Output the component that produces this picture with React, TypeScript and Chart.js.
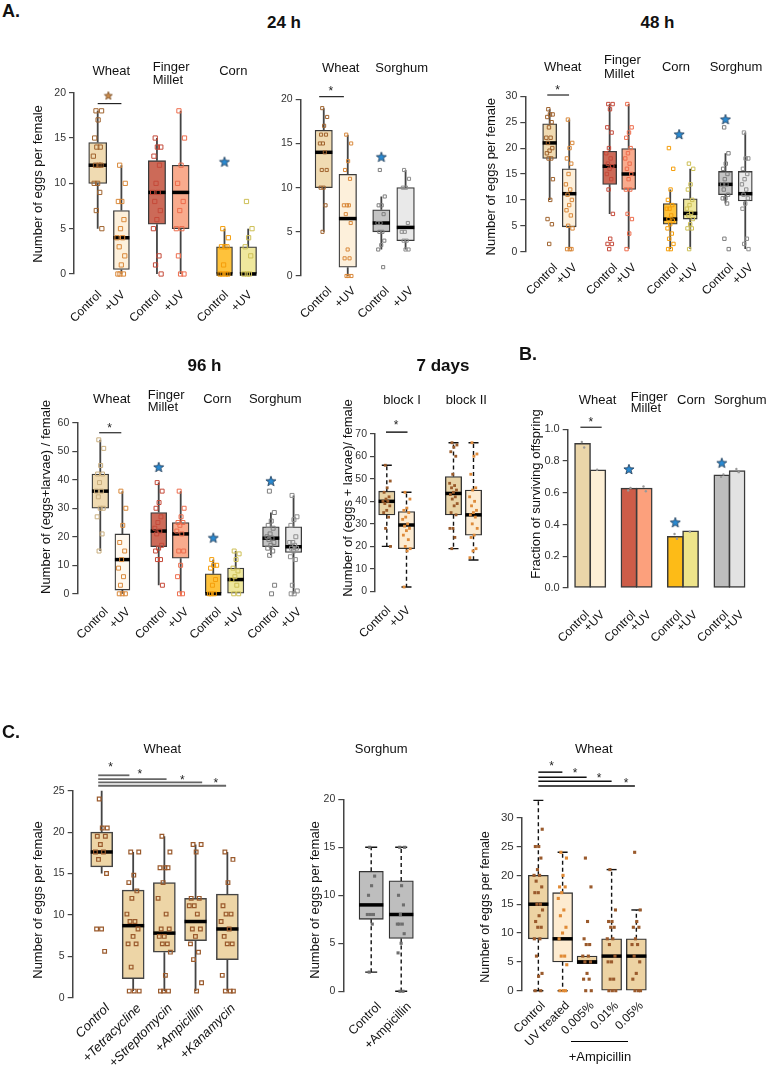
import React, { useEffect, useRef } from "react";
import { Chart, registerables } from "chart.js";

Chart.register(...registerables);

const FONT = "'Liberation Sans', Arial, Helvetica, sans-serif";
Chart.defaults.font.family = FONT;

// ======================= DATA =======================
// ---- A. 24 h : wheat / finger millet / corn ----
const A24L_LABELS = ["Control", "+UV", "Control", "+UV", "Control", "+UV"];
const A24L_LO = [5, 0, 0, 0, 0, 0];
const A24L_Q1 = [10, 0.5, 5.5, 5, 0, 0];
const A24L_MED = [12, 4, 9, 9, 0, 0];
const A24L_Q3 = [14.5, 7, 12.5, 12, 3, 3];
const A24L_HI = [18, 12, 15, 18, 5, 5];
const A24L_PTS = [
  [18, 18, 17, 15, 14, 14, 13, 12, 12, 12, 10, 10, 9, 7, 5],
  [12, 10, 8, 8, 6, 5, 4, 4, 3, 2, 1, 0, 0, 0],
  [15, 14, 14, 13, 12, 10, 9, 9, 8, 7, 6, 5, 2, 1, 0],
  [18, 15, 12, 10, 8, 7, 5, 5, 2, 0, 0],
  [5, 4, 3, 3, 3, 1, 0, 0, 0, 0],
  [8, 5, 4, 3, 2, 0, 0, 0],
];
const A24L_STARS = [{ box: 4, y: 12.4 }];
const A24L_SIGS = [{ a: 0, b: 1, y: 18.8, mark: "brown", f: 0.45, my: 19.7 }];

// ---- A. 24 h : wheat / sorghum ----
const A24R_LABELS = ["Control", "+UV", "Control", "+UV"];
const A24R_LO = [5, 0, 3, 3];
const A24R_Q1 = [10, 1, 5, 4];
const A24R_MED = [14, 6.5, 6, 5.5];
const A24R_Q3 = [16.5, 11.5, 7.5, 10];
const A24R_HI = [19, 16, 9, 12];
const A24R_PTS = [
  [19, 18, 17, 16, 16, 15, 15, 14, 12, 12, 10, 10, 8, 5],
  [16, 15, 13, 12, 11, 8, 8, 8, 7, 6, 3, 2, 2, 0, 0, 0],
  [12, 9, 8, 8, 7, 6, 6, 5, 5, 4, 3.5, 3, 1],
  [12, 11, 10, 10, 6, 5, 5, 4, 4, 3, 3],
];
const A24R_STARS = [{ box: 2, y: 13.5 }];
const A24R_SIGS = [{ a: 0, b: 1, y: 20.3, mark: "*", f: 0.47, my: 21.3, d1: -0.19, d2: -0.16 }];

// ---- A. 48 h ----
const A48_LABELS = ["Control", "+UV", "Control", "+UV", "Control", "+UV", "Control", "+UV"];
const A48_LO = [10, 0.5, 7.3, 0.5, 0.5, 0.5, 9.3, 0.5];
const A48_Q1 = [18, 4.8, 13, 12, 5.3, 6.3, 11, 9.8];
const A48_MED = [21, 11.2, 16.5, 15, 6.3, 7.4, 13, 11.2];
const A48_Q3 = [24.7, 16, 19.4, 19.9, 9.3, 10.2, 15.5, 15.5];
const A48_HI = [27.5, 25.5, 28.5, 28.5, 12, 16, 19, 23];
const A48_PTS = [
  [27.5, 26.5, 26.5, 26, 25, 24, 22, 22, 21, 20, 19.5, 19, 18, 18, 14, 10, 6.3, 5.3, 1.5],
  [25.5, 21, 20, 18, 17, 15, 13, 12, 11, 10, 9, 8, 7, 5, 4.5, 0.5, 0.5, 0.5],
  [28.5, 28.5, 27.5, 24, 23, 20, 19, 18, 17, 16.5, 16, 15, 14, 12, 7.3, 2.5, 1.5, 1.5, 0.5],
  [28.5, 24, 23, 22, 20, 19, 18, 17, 16, 15, 14, 12, 12, 7.3, 6.3, 3.5, 0.5],
  [20, 16, 12, 10, 9, 8.3, 8.3, 7, 6.3, 6, 5.3, 4.5, 3.5, 2.5, 1.5, 0.5, 0.5],
  [17, 16, 13, 12, 10, 9, 8.3, 7.5, 7, 6.3, 5.3, 4.5, 4.5, 0.5],
  [24, 19, 17, 16, 15, 14, 13, 13, 12, 11, 10.3, 10.3, 9.3, 2.5, 0.5],
  [23, 18, 18, 16, 15, 14, 13, 12, 11, 10.3, 9.3, 8.3, 2.5, 1.5, 0.5],
];
const A48_STARS = [{ box: 4, y: 22.7, dx: 0.45 }, { box: 6, y: 25.6 }];
const A48_SIGS = [{ a: 0, b: 1, y: 30.25, mark: "*", f: 0.47, my: 31.7, d1: -0.12, d2: -0.01 }];

// ---- A. 96 h ----
const A96_LABELS = ["Control", "+UV", "Control", "+UV", "Control", "+UV", "Control", "+UV"];
const A96_LO = [15, 0, 3, 0, 0, 0, 13.5, 0];
const A96_Q1 = [30, 1.3, 16.5, 12.5, 0, 0, 16.5, 14.5];
const A96_MED = [36, 12, 22, 21, 0, 5, 19.5, 16.5];
const A96_Q3 = [42, 21, 28.5, 25, 7, 9, 23.5, 23.5];
const A96_HI = [54, 36, 39, 36, 12, 15, 28.5, 34.5];
const A96_PTS = [
  [54, 51, 45, 42, 42, 39, 36, 36, 34, 30, 30, 27, 21, 15],
  [36, 30, 24, 18, 15, 12, 9, 6, 3, 0, 0, 0],
  [39, 36, 32, 30, 27, 25, 23, 22, 21, 17, 16, 15, 12, 12, 3],
  [36, 30, 27, 25, 25, 24, 22, 21, 15, 15, 10, 6, 0, 0],
  [12, 10, 10, 9, 5, 3, 0, 0, 0],
  [15, 14, 12, 9, 8, 6, 5, 3, 0, 0],
  [36, 28.5, 25.5, 24, 23, 21, 20, 19.5, 19, 18, 17, 16, 15, 13.5, 3, 0],
  [34.5, 27, 26, 24, 20, 18, 18, 17, 16, 16, 15, 13, 12, 3, 1, 0, 0],
];
const A96_STARS = [{ box: 2, y: 44.5 }, { box: 4, y: 19.7 }, { box: 6, y: 39.6 }];
const A96_SIGS = [{ a: 0, b: 1, y: 56.5, mark: "*", f: 0.47, my: 59.2, d1: -0.05, d2: -0.05 }];

// ---- A. 7 days ----
const D7_LABELS = ["Control", "+UV", "", ""];
const D7_LO = [20, 2, 19, 14];
const D7_Q1 = [34, 19, 34, 25];
const D7_MED = [40, 29.5, 43.5, 34];
const D7_Q3 = [44.5, 35.5, 51, 45];
const D7_HI = [56, 44, 66, 66];
const D7_PTS = [
  [56, 49, 46, 44, 42, 41, 40, 40, 39, 38, 36, 35, 33, 28, 20],
  [44, 41, 37, 36, 35, 33, 32, 30, 29, 28, 27, 25, 23, 20, 19, 18, 2],
  [66, 65, 64, 62, 60, 52, 48, 47, 46, 45, 44, 43, 42, 41, 39, 38, 35, 34, 28, 28, 24, 19],
  [66, 61, 60, 52, 46, 45, 42, 40, 38, 36, 35, 34, 33, 30, 28, 25, 24, 19, 18, 15],
];
const D7_SIGS = [{ a: 0, b: 1, y: 70.7, mark: "*", f: 0.47, my: 75, d1: -0.04, d2: 0.05 }];

// ---- B. fraction of surviving offspring ----
const B_LABELS = ["Control", "+UV", "Control", "+UV", "Control", "+UV", "Control", "+UV"];
const B_VALUES = [0.911, 0.745, 0.629, 0.63, 0.326, 0.36, 0.713, 0.74];
const B_PTS = [[0.92, 0.885], [0.745], [0.615, 0.63], [0.64, 0.61], [0.34, 0.31], [0.355], [0.7, 0.715], [0.75, 0.73]];
const B_STARS = [{ box: 2, y: 0.75 }, { box: 4, y: 0.415 }, { box: 6, y: 0.79 }];
const B_SIGS = [{ a: 0, b: 1, y: 1.013, mark: "*", f: 0.49, my: 1.066, d1: -0.14, d2: 0.25 }];

// ---- C. wheat + antibiotics ----
const CL_LABELS = ["Control", "+Tetracycline", "+Streptomycin", "+Ampicillin", "+Kanamycin"];
const CL_LO = [15, 0.8, 0.8, 0.8, 0.8];
const CL_Q1 = [15.8, 2.3, 5.5, 6.9, 4.6];
const CL_MED = [17.6, 8.7, 7.8, 9.2, 8.3];
const CL_Q3 = [20, 13, 13.9, 12, 12.5];
const CL_HI = [25, 17.6, 19.5, 18.5, 17.6];
const CL_PTS = [
  [24, 20.5, 20.5, 19.5, 19.5, 18.5, 17.6, 17.6, 16.7, 15, 8.3, 8.3, 5.6],
  [17.6, 17.6, 14.8, 13.9, 12.9, 12, 10.1, 9.2, 9.2, 8.3, 7.4, 6.5, 6.5, 3.7, 0.8, 0.8, 0.8],
  [19.5, 17.6, 15.7, 15.7, 15.7, 13.9, 12, 10.1, 8.3, 8.3, 7.4, 7.4, 6.5, 6.5, 5.5, 2.7, 0.8, 0.8, 0.8],
  [18.5, 18.5, 17.6, 12, 12, 11.1, 11.1, 10.1, 8.3, 8.3, 7.4, 6.5, 5.5, 4.6, 1.8, 0.8],
  [17.6, 16.7, 13.9, 11.1, 10.1, 10.1, 9.2, 8.3, 7.4, 6.5, 6.5, 2.7, 0.8, 0.8, 0.8],
];
const CL_SIGS = [
  { a: 0, b: 1, y: 26.86, mark: "*", f: 0.4, my: 28.2, d1: -0.11, d2: -0.12 },
  { a: 0, b: 2, y: 26.4, mark: "*", f: 0.61, my: 27.4, d1: -0.11, d2: 0.07 },
  { a: 0, b: 3, y: 26.0, mark: "*", f: 0.81, my: 26.7, d1: -0.11, d2: 0.21 },
  { a: 0, b: 4, y: 25.6, mark: "*", f: 0.92, my: 26.3, d1: -0.11, d2: -0.04 },
];

// ---- C. sorghum + ampicillin ----
const CM_LABELS = ["Control", "+Ampicillin"];
const CM_LO = [2, 0];
const CM_Q1 = [7.5, 5.5];
const CM_MED = [9, 8];
const CM_Q3 = [12.5, 11.5];
const CM_HI = [15, 15];
const CM_PTS = [
  [15, 12, 11, 10, 8, 8, 8, 7, 2],
  [15, 15, 11, 10, 9, 8, 7, 7, 7, 6, 5, 4, 0, 0],
];

// ---- C. wheat, UV and ampicillin doses ----
const CR_LABELS = ["Control", "UV treated", "0.005%", "0.01%", "0.05%"];
const CR_LO = [0, 0, 4.7, 0, 0];
const CR_Q1 = [9, 5, 4.7, 0, 0];
const CR_MED = [15, 9, 5, 6, 6];
const CR_Q3 = [20, 17, 6, 9, 9];
const CR_HI = [33, 24, 6, 21, 14];
const CR_PTS = [
  [33, 28, 25, 25, 23, 21, 20, 20, 19, 18, 17, 17, 15, 15, 14, 13, 12, 11, 11, 9, 9, 6, 3, 2.5, 0, 0],
  [24, 23, 20, 18, 18, 17, 16, 14, 13, 11, 10, 9, 6, 6, 4.5, 0, 0, 0],
  [23, 18, 12, 9, 8, 8, 6, 6, 5, 5, 3, 2, 2, 0, 0],
  [21, 14, 12, 12, 11, 11, 9, 9, 8, 6, 5, 5, 2, 2, 0, 0, 0],
  [24, 14, 12, 11, 11, 9, 8, 8, 6, 5, 3, 2, 0, 0, 0],
];
const CR_SIGS = [
  { a: 0, b: 1, y: 37.9, mark: "*", f: 0.55, my: 39.5, d2: -0.01 },
  { a: 0, b: 2, y: 37.0, mark: "*", f: 0.76, my: 38.25, d2: -0.02 },
  { a: 0, b: 3, y: 36.3, mark: "*", f: 0.83, my: 37.4 },
  { a: 0, b: 4, y: 35.5, mark: "*", f: 0.91, my: 36.5, d2: -0.06 },
];

// ======================= STYLES =======================
const WC_FILL = "#F0DBB2", WU_FILL = "#FDF0DB", FC_FILL = "#CC6A58", FU_FILL = "#F9AB8D";
const CC_FILL = "#FEC23B", CU_FILL = "#EFE89D", SC_FILL = "#C4C4C4", SU_FILL = "#E9E9E9";
const WC_PT = "#A0642F", WU_PT = "#D9893B", FC_PT = "#C54A3A", FU_PT = "#EE6D4D";
const CC_PT = "#F59E0B", CU_PT = "#CDBF55", SC_PT = "#7E7E7E", SU_PT = "#8E8E8E";

const A_STYLE = {
  boxBorder: "#3A3A3A", boxBorderW: 1.3, whiskerColor: "#444", whiskerW: 1.8,
  dashed: false, caps: false, capPx: 10, medW: 3.5, yTickSize: 10.5,
  ptFilled: false, ptBorder: 1, labelSize: 12, labelOffset: 6,
};

const PANELS: any[] = [
  {
    ...A_STYLE, left: 0, top: 40, bottom: 335, axisX: 74, yTopPx: 92.7, yBotPx: 274, ppu: 23.7, xMax: 8.0,
    yMin: 0, yMax: 20, yStep: 5, positions: [1, 2, 3.5, 4.5, 6.35, 7.35], labels: A24L_LABELS, labelPad: 14, labelOffset: 2,
    lo: A24L_LO, q1: A24L_Q1, med: A24L_MED, q3: A24L_Q3, hi: A24L_HI, points: A24L_PTS,
    widths: [18, 16, 17.3, 17, 16, 16.7],
    fills: [WC_FILL, WU_FILL, FC_FILL, FU_FILL, CC_FILL, CU_FILL],
    ptColors: [WC_PT, WU_PT, FC_PT, FU_PT, CC_PT, CU_PT], ptRadius: 3, jitterPx: 9,
    stars: A24L_STARS, sigs: A24L_SIGS, sigColor: "#222", sigW: 1.2,
    yTitle: { text: "Number of eggs per female", x: 38, y: 184, size: 13 },
  },
  {
    ...A_STYLE, left: 272, top: 40, bottom: 335, axisX: 300.7, yTopPx: 99.3, yBotPx: 276, ppu: 24, xMax: 5.0,
    yMin: 0, yMax: 20, yStep: 5, positions: [0.96, 1.96, 3.36, 4.37], labels: A24R_LABELS, labelPad: 8,
    lo: A24R_LO, q1: A24R_Q1, med: A24R_MED, q3: A24R_Q3, hi: A24R_HI, points: A24R_PTS,
    widths: [17.3, 17.6, 17.3, 17.6],
    fills: [WC_FILL, WU_FILL, SC_FILL, SU_FILL], ptColors: [WC_PT, WU_PT, SC_PT, SU_PT], ptRadius: 2.2, jitterPx: 8,
    stars: A24R_STARS, sigs: A24R_SIGS, sigColor: "#222", sigW: 1.2,
  },
  {
    ...A_STYLE, left: 455, top: 40, bottom: 335, axisX: 525.3, yTopPx: 96.3, yBotPx: 251.7, ppu: 19.8, xMax: 11.5, padRight: 12,
    yMin: 0, yMax: 30, yStep: 5, positions: [1.23, 2.22, 4.26, 5.22, 7.32, 8.33, 10.11, 11.11], labels: A48_LABELS, labelPad: 9,
    lo: A48_LO, q1: A48_Q1, med: A48_MED, q3: A48_Q3, hi: A48_HI, points: A48_PTS,
    widths: [14, 14, 14, 14, 14, 14, 14, 14],
    fills: [WC_FILL, WU_FILL, FC_FILL, FU_FILL, CC_FILL, CU_FILL, SC_FILL, SU_FILL],
    ptColors: [WC_PT, WU_PT, FC_PT, FU_PT, CC_PT, CU_PT, SC_PT, SU_PT], ptRadius: 2.4, jitterPx: 7,
    stars: A48_STARS, sigs: A48_SIGS, sigColor: "#222", sigW: 1.2,
    yTitle: { text: "Number of eggs per female", x: 491.5, y: 176.7, size: 13 },
  },
  {
    ...A_STYLE, left: 0, top: 345, bottom: 655, axisX: 77.3, yTopPx: 422.7, yBotPx: 593.8, ppu: 22, xMax: 10.5,
    yMin: 0, yMax: 60, yStep: 10, positions: [1.045, 2.05, 3.7, 4.7, 6.18, 7.2, 8.8, 9.83], labels: A96_LABELS, labelPad: 11,
    lo: A96_LO, q1: A96_Q1, med: A96_MED, q3: A96_Q3, hi: A96_HI, points: A96_PTS,
    widths: [16.7, 15, 16, 16.7, 16, 16.3, 16.7, 16.3],
    fills: [WC_FILL, "#FFF9F0", FC_FILL, FU_FILL, CC_FILL, CU_FILL, SC_FILL, SU_FILL],
    ptColors: ["#C9AE7E", WU_PT, FC_PT, FU_PT, CC_PT, CU_PT, SC_PT, SU_PT], ptRadius: 2.8, jitterPx: 8,
    stars: A96_STARS, sigs: A96_SIGS, sigColor: "#444", sigW: 1.4,
    yTitle: { text: "Number of (eggs+larvae) / female", x: 46, y: 497, size: 13 },
  },
  {
    ...A_STYLE, left: 322, top: 345, bottom: 655, axisX: 375, yTopPx: 433.7, yBotPx: 591.5, ppu: 20, xMax: 5.6,
    yMin: 0, yMax: 70, yStep: 10, positions: [0.59, 1.575, 3.925, 4.925], labels: D7_LABELS, labelPad: 12, labelOffset: 2,
    lo: D7_LO, q1: D7_Q1, med: D7_MED, q3: D7_Q3, hi: D7_HI, points: D7_PTS,
    widths: [16.3, 16.3, 16.3, 16.3],
    fills: ["#E8D3A6", "#FCEBD2", "#E8D3A6", "#FCEBD2"], ptColors: ["#9A5B2B", "#DE8A3A", "#9A5B2B", "#DE8A3A"],
    ptFilled: true, ptRadius: 2, ptBorder: 0, jitterPx: 8,
    boxBorder: "#333", whiskerColor: "#111", whiskerW: 1.4, dashed: true, caps: true, capPx: 10,
    sigs: D7_SIGS, sigColor: "#111", sigW: 1.4,
    yTitle: { text: "Number of (eggs + larvae)/ female", x: 348.5, y: 498, size: 13 },
  },
  {
    ...A_STYLE, left: 498, top: 345, bottom: 655, axisX: 567.7, yTopPx: 429.3, yBotPx: 588, ppu: 16, xMax: 11.8, padRight: 11,
    yMin: 0, yMax: 1, yStep: 0.2, yDec: 1, yTickSize: 11, positions: [0.97, 1.97, 4.0, 5.0, 7.03, 8.03, 10.07, 11.07],
    labels: B_LABELS, labelPad: 20, labelOffset: 5, barValues: B_VALUES, points: B_PTS,
    widths: [16, 16, 16, 16, 16, 16, 16, 16],
    fills: ["#EBD6A9", "#FDEFD5", "#CD5C48", "#FCA07C", "#FDBB17", "#EEE48A", "#BDBDBD", "#E2E2E2"],
    ptColors: ["#999", "#999", "#999", "#999", "#999", "#999", "#999", "#999"], ptStyle: "circle",
    ptFilled: true, ptRadius: 1.2, ptBorder: 0, jitterPx: 4, boxBorderW: 1.5,
    stars: B_STARS, sigs: B_SIGS, sigColor: "#222", sigW: 1.2,
    yTitle: { text: "Fraction of surviving offspring", x: 536, y: 494, size: 13 },
  },
  {
    ...A_STYLE, left: 0, top: 700, bottom: 1066, axisX: 72.7, yTopPx: 790.7, yBotPx: 997.7, ppu: 31.5, xMax: 5.5,
    yMin: 0, yMax: 25, yStep: 5, positions: [0.92, 1.92, 2.91, 3.9, 4.91], labels: CL_LABELS, labelSize: 13, labelItalic: true, labelPad: 3,
    lo: CL_LO, q1: CL_Q1, med: CL_MED, q3: CL_Q3, hi: CL_HI, points: CL_PTS,
    widths: [22, 22, 22, 22, 22],
    fills: ["#EDD5A6", "#EDD5A6", "#EDD5A6", "#EDD5A6", "#EDD5A6"],
    ptColors: ["#9A5A2C", "#9A5A2C", "#9A5A2C", "#9A5A2C", "#9A5A2C"], ptRadius: 2.6, ptBorder: 1.2, jitterPx: 13,
    whiskerColor: "#444", whiskerW: 1.8, boxBorder: "#444", boxBorderW: 1.5,
    sigs: CL_SIGS, sigColor: "#666", sigW: 1.8,
    yTitle: { text: "Number of eggs per female", x: 38.3, y: 900, size: 13 },
  },
  {
    ...A_STYLE, left: 285, top: 700, bottom: 1066, axisX: 343.3, yTopPx: 799.3, yBotPx: 991.3, ppu: 30, xMax: 2.5,
    yMin: 0, yMax: 20, yStep: 5, positions: [0.93, 1.93], labels: CM_LABELS, labelSize: 12.5, labelPad: 8, labelOffset: 8,
    lo: CM_LO, q1: CM_Q1, med: CM_MED, q3: CM_Q3, hi: CM_HI, points: CM_PTS,
    widths: [24.3, 24.3], fills: ["#BEBEBE", "#BEBEBE"], ptColors: ["#6E6E6E", "#6E6E6E"],
    ptFilled: true, ptRadius: 2.2, ptBorder: 0, jitterPx: 8,
    boxBorder: "#333", whiskerColor: "#111", whiskerW: 1.4, dashed: true, caps: true, capPx: 12,
    yTitle: { text: "Number of eggs per female", x: 315, y: 900, size: 13 },
  },
  {
    ...A_STYLE, left: 462, top: 700, bottom: 1066, axisX: 521.7, yTopPx: 817.7, yBotPx: 990.7, ppu: 24.5, xMax: 5.2,
    yMin: 0, yMax: 30, yStep: 5, yTickSize: 11.5, positions: [0.68, 1.67, 2.67, 3.67, 4.68], labels: CR_LABELS, labelPad: 8, labelOffset: 5,
    lo: CR_LO, q1: CR_Q1, med: CR_MED, q3: CR_Q3, hi: CR_HI, points: CR_PTS,
    widths: [20, 20, 20, 20, 20],
    fills: ["#EDD3A3", "#FDEBD0", "#EDD3A3", "#EDD3A3", "#EDD3A3"],
    ptColors: ["#9A5A2C", "#E08A35", "#9A5A2C", "#9A5A2C", "#9A5A2C"], ptFilled: true, ptRadius: 2.2, ptBorder: 0, jitterPx: 9,
    boxBorder: "#333", whiskerColor: "#111", whiskerW: 1.4, dashed: true, caps: true, capPx: 10,
    sigs: CR_SIGS, sigColor: "#111", sigW: 1.5,
    yTitle: { text: "Number of eggs per female", x: 486, y: 907, size: 12.5 },
  },
];

const TEXTS: any[] = [
  { text: "A.", x: 11, y: 11, size: 18, bold: true },
  { text: "24 h", x: 284, y: 22, size: 17, bold: true },
  { text: "48 h", x: 657.5, y: 22, size: 17, bold: true },
  { text: "96 h", x: 204.5, y: 365, size: 17, bold: true },
  { text: "7 days", x: 443, y: 365, size: 17, bold: true },
  { text: "B.", x: 528, y: 354, size: 18, bold: true },
  { text: "C.", x: 11, y: 731.5, size: 18, bold: true },
  { text: "Wheat", x: 111.3, y: 69.7, size: 13 },
  { text: "Finger", x: 152.7, y: 66.3, size: 13, left: true },
  { text: "Millet", x: 152.7, y: 78.5, size: 13, left: true },
  { text: "Corn", x: 233.3, y: 70, size: 13 },
  { text: "Wheat", x: 340.7, y: 67.3, size: 13 },
  { text: "Sorghum", x: 401.7, y: 67.3, size: 13 },
  { text: "Wheat", x: 562.7, y: 65.7, size: 13 },
  { text: "Finger", x: 604, y: 59, size: 13, left: true },
  { text: "Millet", x: 604, y: 72.5, size: 13, left: true },
  { text: "Corn", x: 676, y: 65.7, size: 13 },
  { text: "Sorghum", x: 736, y: 65.7, size: 13 },
  { text: "Wheat", x: 111.7, y: 397.7, size: 13 },
  { text: "Finger", x: 147.7, y: 393.7, size: 13, left: true },
  { text: "Millet", x: 147.7, y: 406, size: 13, left: true },
  { text: "Corn", x: 217.3, y: 398.3, size: 13 },
  { text: "Sorghum", x: 275.3, y: 398.3, size: 13 },
  { text: "block I", x: 402, y: 398.5, size: 13 },
  { text: "block II", x: 466.3, y: 398.5, size: 13 },
  { text: "Wheat", x: 597.5, y: 399.3, size: 13 },
  { text: "Finger", x: 630.7, y: 395.8, size: 13, left: true },
  { text: "Millet", x: 630.7, y: 406.7, size: 13, left: true },
  { text: "Corn", x: 691.2, y: 399.3, size: 13 },
  { text: "Sorghum", x: 740.3, y: 399.3, size: 13 },
  { text: "Wheat", x: 162.3, y: 748.3, size: 13 },
  { text: "Sorghum", x: 381.2, y: 748.3, size: 13 },
  { text: "Wheat", x: 593.8, y: 748.3, size: 13 },
  { text: "+Ampicillin", x: 600, y: 1055.7, size: 13 },
];

// ======================= HELPERS =======================
const jit = (j: number) => ((j * 0.618034 + 0.31) % 1) - 0.5;

function makeStar(fill: string, stroke: string, size: number) {
  const c = document.createElement("canvas");
  c.width = size;
  c.height = size;
  const g = c.getContext("2d") as CanvasRenderingContext2D;
  const cx = size / 2, cy = size / 2 + size * 0.05;
  const R = size / 2 - 0.7, r = R * 0.42;
  g.beginPath();
  for (let k = 0; k < 10; k++) {
    const a = -Math.PI / 2 + (k * Math.PI) / 5;
    const rr = k % 2 === 0 ? R : r;
    g.lineTo(cx + rr * Math.cos(a), cy + rr * Math.sin(a));
  }
  g.closePath();
  g.fillStyle = fill;
  g.fill();
  g.lineWidth = 0.8;
  g.strokeStyle = stroke;
  g.stroke();
  return c;
}

function BoxPanel({ p }: { p: any }) {
  const ref = useRef<HTMLCanvasElement>(null);
  const areaRight = p.axisX + p.xMax * p.ppu;
  const width = Math.round(areaRight + (p.padRight ?? 14) - p.left);
  const height = p.bottom - p.top;

  useEffect(() => {
    const canvas = ref.current;
    if (!canvas) return;
    const padTop = p.yTopPx - p.top;
    const padRight = width - (areaRight - p.left);
    const yAxisW = p.axisX - p.left;
    const xAxisH = p.bottom - p.yBotPx;

    const datasets: any[] = [];
    p.positions.forEach((pos: number, i: number) => {
      datasets.push({
        type: "bar",
        data: [{ x: pos, y: p.barValues ? p.barValues[i] : [p.q1[i], p.q3[i]] }],
        backgroundColor: p.fills[i],
        borderColor: p.boxBorder,
        borderWidth: p.boxBorderW,
        borderSkipped: false,
        barThickness: p.widths[i],
        grouped: false,
        clip: false,
        order: 3,
        boxIndex: i,
      });
    });
    p.points.forEach((arr: number[], i: number) => {
      datasets.push({
        type: "scatter",
        data: arr.map((v, j) => ({ x: p.positions[i] + (jit(j) * p.jitterPx) / p.ppu, y: v })),
        pointStyle: p.ptStyle || "rect",
        pointRadius: p.ptRadius,
        pointBorderWidth: p.ptBorder,
        pointBorderColor: p.ptColors[i],
        pointBackgroundColor: p.ptFilled ? p.ptColors[i] : "rgba(0,0,0,0)",
        clip: false,
        order: 2,
      });
    });
    if (p.stars && p.stars.length) {
      const img = makeStar("#2A8AD2", "#1B3550", 12);
      datasets.push({
        type: "scatter",
        data: p.stars.map((s: any) => ({ x: p.positions[s.box] + (s.dx || 0), y: s.y })),
        pointStyle: img,
        pointRadius: 6,
        clip: false,
        order: 1,
      });
    }
    const brown = (p.sigs || []).filter((s: any) => s.mark === "brown");
    if (brown.length) {
      const img = makeStar("#C98A4B", "#7A4A20", 10);
      datasets.push({
        type: "scatter",
        data: brown.map((s: any) => {
          const x1 = p.positions[s.a] + (s.d1 || 0);
          const x2 = p.positions[s.b] + (s.d2 || 0);
          return { x: x1 + (x2 - x1) * s.f, y: s.my };
        }),
        pointStyle: img,
        pointRadius: 5,
        clip: false,
        order: 1,
      });
    }

    const decor = {
      id: "decor",
      afterDatasetDraw(chart: any, args: any) {
        const ds = chart.data.datasets[args.index];
        if (ds.boxIndex === undefined || !p.med) return;
        const i = ds.boxIndex;
        const el = args.meta.data[0];
        if (!el) return;
        const ys = chart.scales.y;
        const Y = (v: number) => ys.getPixelForValue(v);
        const ctx = chart.ctx;
        const x = el.x, hw = el.width / 2;
        ctx.save();
        ctx.strokeStyle = p.whiskerColor;
        ctx.lineWidth = p.whiskerW;
        ctx.setLineDash(p.dashed ? [4, 3] : []);
        ctx.beginPath();
        if (p.hi[i] > p.q3[i]) { ctx.moveTo(x, Y(p.q3[i])); ctx.lineTo(x, Y(p.hi[i])); }
        if (p.lo[i] < p.q1[i]) { ctx.moveTo(x, Y(p.q1[i])); ctx.lineTo(x, Y(p.lo[i])); }
        ctx.stroke();
        ctx.setLineDash([]);
        if (p.caps) {
          const c = p.capPx / 2;
          ctx.beginPath();
          if (p.hi[i] > p.q3[i]) { ctx.moveTo(x - c, Y(p.hi[i])); ctx.lineTo(x + c, Y(p.hi[i])); }
          if (p.lo[i] < p.q1[i]) { ctx.moveTo(x - c, Y(p.lo[i])); ctx.lineTo(x + c, Y(p.lo[i])); }
          ctx.stroke();
        }
        ctx.strokeStyle = "#000";
        ctx.lineWidth = p.medW;
        ctx.beginPath();
        ctx.moveTo(x - hw, Y(p.med[i]));
        ctx.lineTo(x + hw, Y(p.med[i]));
        ctx.stroke();
        ctx.restore();
      },
      afterDraw(chart: any) {
        const ctx = chart.ctx;
        const xs = chart.scales.x, ys = chart.scales.y;
        ctx.save();
        (p.sigs || []).forEach((s: any) => {
          const u1 = p.positions[s.a] + (s.d1 || 0);
          const u2 = p.positions[s.b] + (s.d2 || 0);
          const x1 = xs.getPixelForValue(u1), x2 = xs.getPixelForValue(u2);
          const y = ys.getPixelForValue(s.y);
          ctx.strokeStyle = p.sigColor;
          ctx.lineWidth = p.sigW;
          ctx.beginPath();
          ctx.moveTo(x1, y);
          ctx.lineTo(x2, y);
          ctx.stroke();
          if (s.mark === "*") {
            const fs = 12;
            ctx.fillStyle = "#222";
            ctx.font = `${fs}px ${FONT}`;
            ctx.textAlign = "center";
            ctx.textBaseline = "alphabetic";
            ctx.fillText("*", xs.getPixelForValue(u1 + (u2 - u1) * s.f), ys.getPixelForValue(s.my) + 0.58 * fs);
          }
        });
        if (p.yTitle) {
          const t = p.yTitle;
          ctx.translate(t.x - p.left, t.y - p.top);
          ctx.rotate(-Math.PI / 2);
          ctx.fillStyle = "#111";
          ctx.font = `${t.size}px ${FONT}`;
          ctx.textAlign = "center";
          ctx.textBaseline = "middle";
          ctx.fillText(t.text, 0, 0);
        }
        ctx.restore();
      },
    };

    const chart = new Chart(canvas, {
      type: "bar",
      data: { datasets },
      options: {
        responsive: false,
        animation: false,
        events: [],
        layout: { padding: { left: 0, top: padTop, right: padRight, bottom: 0 } },
        plugins: { legend: { display: false }, tooltip: { enabled: false }, title: { display: false } },
        scales: {
          x: {
            type: "linear",
            min: 0,
            max: p.xMax,
            offset: false,
            afterFit: (s: any) => { s.height = xAxisH; },
            afterBuildTicks: (s: any) => { s.ticks = p.positions.map((v: number) => ({ value: v })); },
            ticks: {
              autoSkip: false,
              minRotation: 45,
              maxRotation: 45,
              padding: p.labelPad,
              labelOffset: p.labelOffset,
              color: "#111",
              font: { size: p.labelSize, style: p.labelItalic ? "italic" : "normal", family: FONT },
              callback: (_v: any, i: number) => p.labels[i],
            },
            grid: { display: false, drawTicks: false, offset: false },
            border: { display: false },
          },
          y: {
            type: "linear",
            min: p.yMin,
            max: p.yMax,
            afterFit: (s: any) => { s.width = yAxisW; },
            ticks: {
              stepSize: p.yStep,
              padding: 3,
              color: "#333",
              font: { size: p.yTickSize, family: FONT },
              callback: (v: any) => (p.yDec ? Number(v).toFixed(p.yDec) : String(Math.round(Number(v) * 100) / 100)),
            },
            grid: { display: true, drawOnChartArea: false, drawTicks: true, tickLength: 5, color: "#444", lineWidth: 1.2 },
            border: { display: true, color: "#444", width: 1.5 },
          },
        },
      } as any,
      plugins: [decor],
    } as any);
    return () => chart.destroy();
  }, []);

  return (
    <canvas
      ref={ref}
      width={width}
      height={height}
      style={{ position: "absolute", left: p.left, top: p.top, width, height }}
    />
  );
}

export default function App() {
  return (
    <div
      style={{
        position: "absolute", left: 0, top: 0, width: 768, height: 1066,
        overflow: "hidden", background: "#fff", fontFamily: FONT, color: "#111",
      }}
    >
      {PANELS.map((p, i) => (
        <BoxPanel key={i} p={p} />
      ))}
      {TEXTS.map((t, i) => (
        <div
          key={"t" + i}
          style={{
            position: "absolute", left: t.x, top: t.y,
            transform: t.left ? "translate(0,-50%)" : "translate(-50%,-50%)",
            fontSize: t.size, fontWeight: t.bold ? "bold" : "normal",
            lineHeight: 1, whiteSpace: "nowrap", fontFamily: FONT, color: "#111",
          }}
        >
          {t.text}
        </div>
      ))}
      <div style={{ position: "absolute", left: 571, top: 1041, width: 57, height: 0, borderTop: "1px solid #000" }} />
    </div>
  );
}
